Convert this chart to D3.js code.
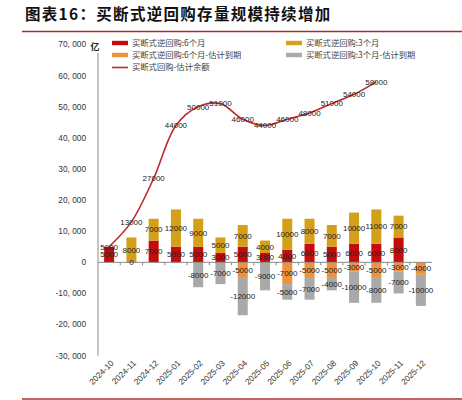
<!DOCTYPE html>
<html>
<head>
<meta charset="utf-8">
<script src="https://cdn.jsdelivr.net/npm/d3@7"></script>
<style>
  body { margin: 0; background: #fff; }
  svg text { font-family: "Liberation Sans", Arial, sans-serif; }
  .cjk { font-family: "Noto Sans CJK SC", sans-serif; }
</style>
</head>
<body>
<div id="chart"></div>
<script>
// data (unit: 亿)
const months = ['2024-10', '2024-11', '2024-12', '2025-01', '2025-02', '2025-03', '2025-04',
  '2025-05', '2025-06', '2025-07', '2025-08', '2025-09', '2025-10', '2025-11', '2025-12']
const sixMonth = [5000, 0, 7000, 5000, 5000, 3000, 5000, 3000, 4000, 6000, 5000, 6000, 6000, 8000, null]
const threeMonth = [null, 8000, 7000, 12000, 9000, 5000, 7000, 4000, 10000, 8000, 7000, 10000, 11000, 7000, null]
const sixMonthDue = [null, null, null, null, null, null, -5000, null, -7000, -5000, -5000, -3000, -5000, -3000, -4000]
const threeMonthDue = [null, null, null, null, -8000, -7000, -12000, -9000, -5000, -7000, -4000, -10000, -8000, -7000, -10000]
const balance = [5000, 13000, 27000, 44000, 50000, 51000, 46000, 44000, 46000, 48000, 51000, 54000, 58000, null, null]
const yTicks = [-30000, -20000, -10000, 0, 10000, 20000, 30000, 40000, 50000, 60000, 70000]

const keys = ['six', 'three', 'sixDue', 'threeDue']
const names = {
  six: '买断式逆回购:6个月',
  three: '买断式逆回购:3个月',
  sixDue: '买断式逆回购:6个月-估计到期',
  threeDue: '买断式逆回购:3个月-估计到期',
  line: '买断式回购-估计余额'
}
const colors = {six: '#c40c0c', three: '#d4a019', sixDue: '#f0923c', threeDue: '#a9a9a9', line: '#c0282d'}

const rows = months.map((m, i) => ({
  month: m, six: sixMonth[i], three: threeMonth[i],
  sixDue: sixMonthDue[i], threeDue: threeMonthDue[i], balance: balance[i]
}))

const svg = d3.select('#chart')
  .append('svg')
    .attr('width', 462)
    .attr('height', 400)

// title + rules
svg.append('text')
  .attr('class', 'cjk')
  .attr('x', 25)
  .attr('y', 20)
  .style('font-size', '15.5px')
  .style('font-weight', 'bold')
  .style('letter-spacing', '1.3px')
  .attr('fill', '#111')
  .text('图表16：买断式逆回购存量规模持续增加')

svg.append('line')
  .attr('x1', 22).attr('x2', 462).attr('y1', 31.5).attr('y2', 31.5)
  .attr('stroke', '#a8302c').attr('stroke-width', 1.6)
svg.append('line')
  .attr('x1', 22).attr('x2', 462).attr('y1', 399).attr('y2', 399)
  .attr('stroke', '#a8302c').attr('stroke-width', 1.6)

const xscale = d3.scaleBand()
  .domain(months)
  .range([98, 432])
  .paddingInner(0.55)
  .paddingOuter(0.275)

const yscale = d3.scaleLinear()
  .domain([-30000, 70000])
  .range([355.7, 44.5])

const cx = m => xscale(m) + xscale.bandwidth() / 2

// y axis labels
svg.append('g')
  .selectAll('text')
  .data(yTicks)
  .enter()
  .append('text')
    .attr('x', 86)
    .attr('y', d => yscale(d))
    .attr('dy', '0.35em')
    .attr('text-anchor', 'end')
    .style('font-size', '8.3px')
    .attr('fill', '#333')
    .text(d => d3.format(',')(d).replace(',', ', ').replace('−', '-'))

svg.append('line')
  .attr('x1', 98).attr('x2', 98)
  .attr('y1', 53).attr('y2', yscale(-30000))
  .attr('stroke', '#8a8a8a')

svg.append('text')
  .attr('class', 'cjk')
  .attr('x', 95).attr('y', 50)
  .attr('text-anchor', 'middle')
  .style('font-size', '9px')
  .style('font-weight', 'bold')
  .attr('fill', '#222')
  .text('亿')

// stacked bars
const stack = d3.stack()
  .keys(keys)
  .value((d, k) => d[k] == null ? 0 : d[k])
  .offset(d3.stackOffsetDiverging)
const series = stack(rows)

svg.append('g')
  .selectAll('g')
  .data(series)
  .enter()
  .append('g')
    .attr('fill', s => colors[s.key])
  .selectAll('rect')
  .data(s => s.filter(p => p.data[s.key] != null))
  .enter()
  .append('rect')
    .attr('x', p => xscale(p.data.month))
    .attr('width', xscale.bandwidth())
    .attr('y', p => yscale(Math.max(p[0], p[1])))
    .attr('height', p => Math.abs(yscale(p[0]) - yscale(p[1])))

// zero axis with ticks at band edges
svg.append('line')
  .attr('x1', 98).attr('x2', 432)
  .attr('y1', yscale(0)).attr('y2', yscale(0))
  .attr('stroke', '#8a8a8a')

svg.append('g')
  .selectAll('line')
  .data(months.slice(0, -1))
  .enter()
  .append('line')
    .attr('x1', d => cx(d) + xscale.step() / 2)
    .attr('x2', d => cx(d) + xscale.step() / 2)
    .attr('y1', yscale(0))
    .attr('y2', yscale(0) + 3)
    .attr('stroke', '#8a8a8a')

// x labels
svg.append('g')
  .selectAll('text')
  .data(months)
  .enter()
  .append('text')
    .attr('transform', d => `translate(${cx(d) + 3},${yscale(-30000) + 6}) rotate(-45)`)
    .attr('text-anchor', 'end')
    .attr('dy', '0.35em')
    .style('font-size', '8.3px')
    .attr('fill', '#333')
    .text(d => d)

// balance line
const lineRows = rows.filter(d => d.balance != null)
const line = d3.line()
  .x(d => cx(d.month))
  .y(d => yscale(d.balance))
  .curve(d3.curveCatmullRom.alpha(0.5))

svg.append('path')
  .datum(lineRows)
  .attr('d', line)
  .attr('fill', 'none')
  .attr('stroke', colors.line)
  .attr('stroke-width', 1.6)

// bar labels
svg.append('g')
  .selectAll('g')
  .data(series)
  .enter()
  .append('g')
  .selectAll('text')
  .data(s => s.filter(p => p.data[s.key] != null).map(p => ({p, v: p.data[s.key]})))
  .enter()
  .append('text')
    .attr('x', d => cx(d.p.data.month))
    .attr('y', d => yscale((d.p[0] + d.p[1]) / 2))
    .attr('dy', '0.35em')
    .attr('text-anchor', 'middle')
    .style('font-size', '8px')
    .attr('fill', '#222')
    .text(d => d.v)

// line labels
svg.append('g')
  .selectAll('text')
  .data(lineRows)
  .enter()
  .append('text')
    .attr('x', d => cx(d.month))
    .attr('y', d => yscale(d.balance))
    .attr('dy', '0.35em')
    .attr('text-anchor', 'middle')
    .style('font-size', '8px')
    .attr('fill', '#222')
    .text(d => d.balance)

// legend
const legendItems = [
  {key: 'six', x: 112, y: 43},
  {key: 'three', x: 286, y: 43},
  {key: 'sixDue', x: 112, y: 55},
  {key: 'threeDue', x: 286, y: 55},
  {key: 'line', x: 112, y: 67.5}
]
const legend = svg.append('g')
  .selectAll('g')
  .data(legendItems)
  .enter()
  .append('g')
    .attr('transform', d => `translate(${d.x},${d.y})`)

legend.append('rect')
  .attr('x', 0)
  .attr('y', d => d.key === 'line' ? -0.8 : -2.2)
  .attr('width', 16)
  .attr('height', d => d.key === 'line' ? 1.6 : 4.4)
  .attr('fill', d => colors[d.key])

legend.append('text')
  .attr('class', 'cjk')
  .attr('x', 20)
  .attr('dy', '0.35em')
  .style('font-size', '8.3px')
  .attr('fill', '#444')
  .text(d => names[d.key])
</script>
</body>
</html>
